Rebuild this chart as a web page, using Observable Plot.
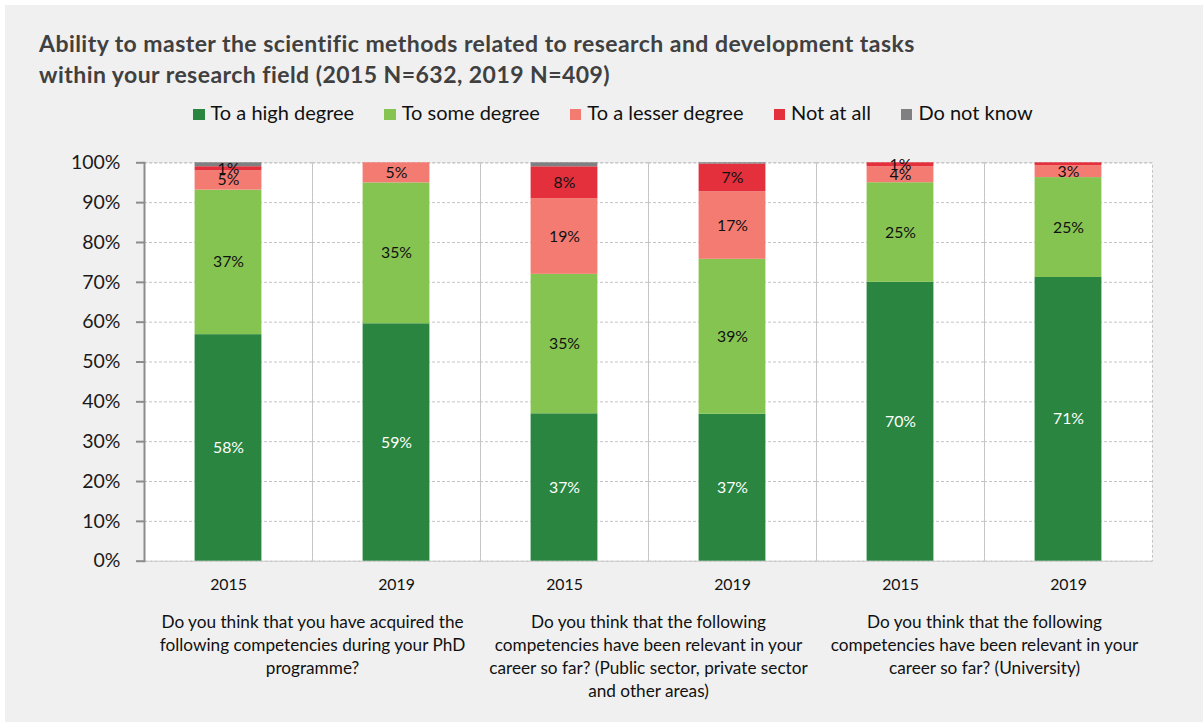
<!DOCTYPE html>
<html><head><meta charset="utf-8">
<script src="https://cdn.jsdelivr.net/npm/d3@7"></script>
<script src="https://cdn.jsdelivr.net/npm/@observablehq/plot@0.6"></script>
<style>
html,body{margin:0;padding:0;background:#fff;width:1203px;height:722px;overflow:hidden;}
#card{position:absolute;left:5px;top:5px;width:1198px;height:717px;background:#f0f0f0;font-family:Lato,sans-serif;}
#title{position:absolute;left:34px;top:23.3px;font-weight:bold;font-size:23px;letter-spacing:0.45px;color:#404040;line-height:31px;white-space:nowrap;}
#legend{position:absolute;left:188px;top:95.3px;display:flex;gap:30px;font-size:20px;line-height:24px;color:#111;white-space:nowrap;}
#legend .item{display:flex;align-items:baseline;}
#legend .sw{display:inline-block;width:11.5px;height:11.5px;margin-right:6px;}
#chart{position:absolute;left:0;top:0;}
</style></head>
<body>
<div id="card">
  <div id="title">Ability to master the scientific methods related to research and development tasks<br>within your research field (2015 N=632, 2019 N=409)</div>
  <div id="legend"></div>
</div>
<div id="chart"></div>
<script>
const groups = [
  "Do you think that you have acquired the\nfollowing competencies during your PhD\nprogramme?",
  "Do you think that the following\ncompetencies have been relevant in your\ncareer so far? (Public sector, private sector\nand other areas)",
  "Do you think that the following\ncompetencies have been relevant in your\ncareer so far? (University)"
];
const years = ["2015", "2019"];
const series = ["To a high degree", "To some degree", "To a lesser degree", "Not at all", "Do not know"];
const colors = ["#2a8540", "#86c452", "#f47b72", "#e3303c", "#808083"];
// values per column: PhD 2015, PhD 2019, Public 2015, Public 2019, Univ 2015, Univ 2019
const highDegree   = [58, 59, 37, 37, 70, 71];
const someDegree   = [37, 35, 35, 39, 25, 25];
const lesserDegree = [5, 5, 19, 17, 4, 3];
const notAtAll     = [1, 0, 8, 7, 1, 0.7];
const doNotKnow    = [1, 0, 1, 0.3, 0, 0];
const yTicks = [0, 0.1, 0.2, 0.3, 0.4, 0.5, 0.6, 0.7, 0.8, 0.9, 1];

const seriesValues = [highDegree, someDegree, lesserDegree, notAtAll, doNotKnow];
const columns = groups.flatMap((g, gi) => years.map((y, yi) => ({index: gi * 2 + yi, group: gi, year: y})));
const rows = series.flatMap((s, si) => seriesValues[si].map((v, c) => ({
  column: c, series: s, value: v,
  label: (s !== "Do not know" && v >= 1) ? `${v}%` : null
})));

// legend
const legend = document.getElementById("legend");
series.forEach((s, i) => {
  const it = document.createElement("div");
  it.className = "item";
  it.innerHTML = `<span class="sw" style="background:${colors[i]}"></span><span>${s}</span>`;
  legend.appendChild(it);
});

const labelFont = 15.8;
const chart = Plot.plot({
  width: 1203, height: 722,
  marginTop: 162.3, marginBottom: 161.3, marginLeft: 141, marginRight: 49,
  style: {background: "transparent", fontFamily: "Lato, sans-serif", overflow: "visible"},
  fx: {domain: columns.map(d => d.index), padding: 0},
  y: {domain: [0, 1]},
  color: {domain: series, range: colors},
  marks: [
    Plot.frame({fill: "white"}),
    Plot.gridY(yTicks, {stroke: "#c4c4c4", strokeOpacity: 1, strokeDasharray: "3,2"}),
    Plot.frame({stroke: "#c4c4c4", strokeDasharray: "3,2"}),
    Plot.barY(rows, Plot.stackY({fx: "column", y: "value", fill: "series", offset: "normalize", insetLeft: 50.6, insetRight: 50.6})),
    Plot.text(rows, Plot.stackY({fx: "column", y: "value", z: "series", offset: "normalize",
      text: d => d.series === "To a high degree" ? d.label : null, fill: "white", fontSize: labelFont})),
    Plot.text(rows, Plot.stackY({fx: "column", y: "value", z: "series", offset: "normalize",
      text: d => d.series !== "To a high degree" ? d.label : null, fill: "#111", fontSize: labelFont})),
    Plot.frame({anchor: "left", facetAnchor: "left", stroke: "#8c8c8c", strokeWidth: 2}),
    Plot.axisY(yTicks, {tickFormat: d => `${Math.round(d * 100)}%`, tickSize: 8, tickPadding: 16, label: null,
      stroke: "#8c8c8c", strokeWidth: 2, fill: "#1a1a1a", fontSize: 19.5}),
    Plot.axisFx({anchor: "bottom", tickSize: 0, tickPadding: 18, label: null,
      tickFormat: c => columns[c].year, fontSize: 15.8, fill: "#111"}),
    Plot.text(groups, {fx: (d, i) => i * 2, frameAnchor: "bottom-right", text: d => d,
      textAnchor: "middle", lineAnchor: "top", dy: 50.5, lineHeight: 1.33, fontSize: 17.2, fill: "#111"})
  ]
});
document.getElementById("chart").appendChild(chart);
</script>
</body></html>
